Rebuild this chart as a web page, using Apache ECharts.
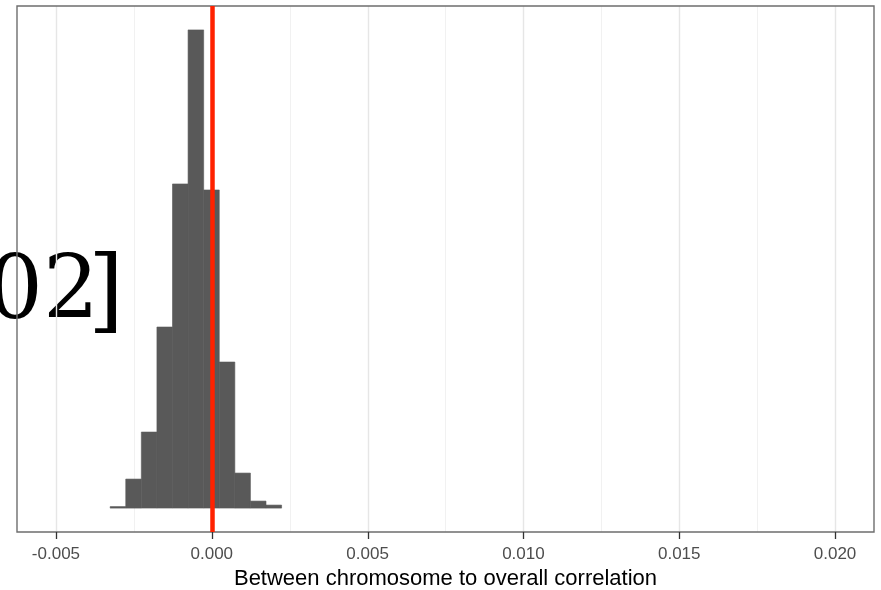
<!DOCTYPE html>
<html>
<head>
<meta charset="utf-8">
<script src="https://cdn.jsdelivr.net/npm/echarts@6/dist/echarts.min.js"></script>
<style>html,body{margin:0;padding:0;background:#fff;}#c{width:881px;height:590px;}</style>
</head>
<body>
<div id="c"></div>
<script>
// Histogram bins (left edges), bin width and counts
const binStarts = [-0.00326, -0.00276, -0.00226, -0.00176, -0.00126, -0.00076, -0.00026, 0.00024, 0.00074, 0.00124, 0.00174];
const binWidth = 0.0005;
const counts = [1.5, 29, 76, 181, 324, 478, 318, 146, 35, 7, 3];
// Axis ticks
const majorTicks = [-0.005, 0.000, 0.005, 0.010, 0.015, 0.020];
const minorTicks = [-0.0025, 0.0025, 0.0075, 0.0125, 0.0175];
const xLimits = [-0.005, 0.020];
const refLine = 0;
const xTitle = 'Between chromosome to overall correlation';
const leftTextDigits = '02';
const leftTextBracket = ']';

const span = xLimits[1] - xLimits[0];
const xMin = xLimits[0] - 0.05 * span, xMax = xLimits[1] + 0.05 * span;
const maxCount = Math.max(...counts);

const gridData = [
  ...minorTicks.map(v => [v, 0]),
  ...majorTicks.map(v => [v, 1])
];

const chart = echarts.init(document.getElementById('c'), null, {renderer: 'canvas'});
const serif = '88px "DejaVu Serif", serif';
const option = {
  animation: false,
  backgroundColor: '#ffffff',
  grid: {left: 17, right: 7, top: 6, bottom: 58, outerBoundsMode: 'none', containLabel: false,
    show: true, borderColor: '#6e6e6e', borderWidth: 1.4, backgroundColor: 'transparent', z: 3},
  xAxis: {
    type: 'value', min: xMin, max: xMax,
    axisLine: {show: false, onZero: false},
    splitLine: {show: false},
    axisTick: {show: false},
    axisLabel: {customValues: majorTicks, margin: 14, color: '#4d4d4d', fontSize: 17, fontFamily: 'Liberation Sans, Arial, sans-serif',
      formatter: v => v.toFixed(3)},
    name: xTitle, nameLocation: 'middle', nameGap: 32,
    nameTextStyle: {color: '#000000', fontSize: 22, fontFamily: 'Liberation Sans, Arial, sans-serif'}
  },
  yAxis: {
    type: 'value', min: -0.05 * maxCount, max: 1.05 * maxCount,
    show: false, splitLine: {show: false}
  },
  graphic: [
    {type: 'text', z: -1, style: {text: leftTextDigits, x: 99, y: 295, textAlign: 'right', textVerticalAlign: 'middle', font: serif, fill: '#000000'}},
    {type: 'text', z: -1, style: {text: leftTextBracket, x: 124, y: 297, textAlign: 'right', textVerticalAlign: 'middle', font: '92px "DejaVu Serif", serif', fill: '#000000'}}
  ],
  series: [
    {
      type: 'custom', z: 1, silent: true,
      data: gridData,
      encode: {x: 0},
      renderItem: function (params, api) {
        const cs = params.coordSys;
        const x = Math.round(api.coord([api.value(0), 0])[0]) + 0.5;
        const major = api.value(1) === 1;
        return {type: 'line', shape: {x1: x, y1: cs.y, x2: x, y2: cs.y + cs.height},
          style: {stroke: major ? '#e6e6e6' : '#f1f1f1', lineWidth: major ? 1.4 : 1}};
      }
    },
    {
      // axis ticks below the panel
      type: 'custom', z: 4, silent: true, clip: false,
      data: majorTicks.map(v => [v]),
      encode: {x: 0},
      renderItem: function (params, api) {
        const cs = params.coordSys;
        const x = Math.round(api.coord([api.value(0), 0])[0]) + 0.5;
        const y0 = cs.y + cs.height;
        return {type: 'line', shape: {x1: x, y1: y0, x2: x, y2: y0 + 7},
          style: {stroke: '#333333', lineWidth: 1.3}};
      }
    },
    {
      type: 'custom', z: 2,
      data: binStarts.map((s, i) => [s, s + binWidth, counts[i]]),
      encode: {x: [0, 1], y: 2},
      renderItem: function (params, api) {
        const p0 = api.coord([api.value(0), api.value(2)]);
        const p1 = api.coord([api.value(1), 0]);
        return {type: 'rect', shape: {x: p0[0], y: p0[1], width: p1[0] - p0[0], height: p1[1] - p0[1]},
          style: {fill: '#595959', stroke: '#595959', lineWidth: 0.6}};
      }
    },
    {
      type: 'line', data: [], z: 5, silent: true,
      markLine: {
        silent: true, symbol: 'none', label: {show: false}, z: 5,
        data: [{xAxis: refLine}],
        lineStyle: {color: '#ff2200', width: 4.5, type: 'solid'}
      }
    }
  ]
};
chart.setOption(option);
</script>
</body>
</html>
